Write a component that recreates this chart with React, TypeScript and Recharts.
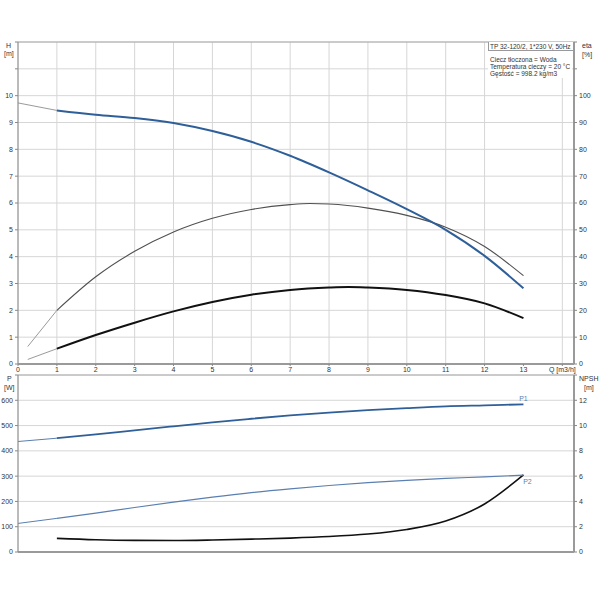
import React from "react";
import { ComposedChart, Line, XAxis, YAxis, CartesianGrid, ReferenceLine } from "recharts";

// ---- tick labels ----
const qTicks = [0, 1, 2, 3, 4, 5, 6, 7, 8, 9, 10, 11, 12, 13, 14];
const hTicks = [0, 1, 2, 3, 4, 5, 6, 7, 8, 9, 10, 11, 12];
const etaTicks = [0, 10, 20, 30, 40, 50, 60, 70, 80, 90, 100, 110, 120];
const pTicks = [0, 100, 200, 300, 400, 500, 600, 700];
const npshTicks = [0, 2, 4, 6, 8, 10, 12, 14];

// ---- H curve [m] ----
const qHExt = [0, 1];
const hExt = [9.73, 9.45];
const qMain = [1, 2, 3, 4, 5, 6, 7, 8, 9, 10, 11, 12, 13];
const hMain = [9.45, 9.29, 9.17, 8.98, 8.68, 8.28, 7.76, 7.14, 6.47, 5.77, 5.0, 4.03, 2.82];

// ---- eta pump [%] ----
const qEtaExt = [0.25, 1];
const etaExt = [6.5, 20];
const qEta = [1, 2, 3, 4, 5, 6, 7, 7.5, 8, 9, 10, 11, 12, 13];
const etaMain = [20, 32.5, 42, 49.2, 54.3, 57.6, 59.4, 59.8, 59.6, 58.1, 55.4, 51.0, 43.8, 32.9];

// ---- eta total [%] ----
const etaTotExt = [1.7, 5.7];
const qEtaTot = [1, 2, 3, 4, 5, 6, 7, 8, 8.5, 9, 10, 11, 12, 13];
const etaTotMain = [5.7, 10.8, 15.4, 19.6, 23.1, 25.8, 27.6, 28.5, 28.7, 28.5, 27.6, 25.7, 22.6, 17.1];

// ---- P1 / P2 [W] ----
const qPExt = [0, 1];
const p1Ext = [437, 450];
const p1Main = [450, 465, 481, 497, 513, 527, 540, 551, 561, 569, 576, 580, 584];
const p2Ext = [113, 133];
const p2Main = [133, 154, 176, 197, 217, 235, 250, 263, 274, 283, 291, 297, 304];

// ---- NPSH [m] ----
const npshMain = [1.08, 0.97, 0.92, 0.91, 0.95, 1.02, 1.1, 1.22, 1.42, 1.78, 2.45, 3.8, 6.1];

const pts = (qs: number[], vs: number[]) => qs.map((q, i) => ({ q, v: vs[i] }));

const FONT = "'Liberation Sans', Arial, sans-serif";
const tickStyle = { fontSize: 7, fill: "#333", fontFamily: FONT };
const GRID = "#d6d6d6";
const BLUE = "#2f5f98";
const BLUE2 = "#5a7fb0";
const EXT = "#9a9a9a";
const CURVE = "monotone";

const txt = (left: number, top: number, s: string, extra: any = {}) => (
  <div
    style={{
      position: "absolute",
      left,
      top,
      fontSize: 7,
      lineHeight: "8px",
      fontFamily: FONT,
      color: "#333",
      whiteSpace: "nowrap",
      ...extra,
    }}
  >
    {s}
  </div>
);

const endLabel = (text: string, n: number, dy: number, dx: number) => (props: any) => {
  if (props.index !== n - 1) return <g />;
  return (
    <text
      x={props.x + dx}
      y={props.y + dy}
      fontSize={7}
      fontFamily={FONT}
      fill={BLUE2}
      textAnchor="middle"
    >
      {text}
    </text>
  );
};

export default function App() {
  return (
    <div style={{ position: "absolute", left: 0, top: 0, width: 600, height: 600, background: "#fff" }}>
      {/* top chart */}
      <div style={{ position: "absolute", left: 0, top: 0 }}>
        <ComposedChart width={600} height={384} margin={{ top: 42, right: 0, bottom: 0, left: 0 }}>
          <CartesianGrid xAxisId="q" yAxisId="h" stroke={GRID} />
          <XAxis
            xAxisId="q"
            dataKey="q"
            type="number"
            domain={[0, 14.3]}
            ticks={qTicks}
            allowDataOverflow
            height={20}
            tick={tickStyle}
            tickSize={2}
            tickMargin={1}
            tickLine={{ stroke: "#888" }}
            axisLine={{ stroke: "#9a9a9a", strokeWidth: 2 }}
            tickFormatter={(v: number) => (v === 14 ? "Q [m3/h]" : String(v))}
          />
          <YAxis
            yAxisId="h"
            type="number"
            domain={[0, 12]}
            ticks={hTicks}
            width={18}
            tick={tickStyle}
            tickSize={3}
            tickMargin={2}
            tickLine={{ stroke: "#888" }}
            axisLine={{ stroke: "#8a8a8a" }}
            tickFormatter={(v: number) => (v <= 10 ? String(v) : "")}
          />
          <YAxis
            yAxisId="eta"
            orientation="right"
            type="number"
            domain={[0, 120]}
            ticks={etaTicks}
            width={26}
            tick={tickStyle}
            tickSize={3}
            tickMargin={2}
            tickLine={{ stroke: "#888" }}
            axisLine={{ stroke: "#9a9a9a", strokeWidth: 2 }}
            tickFormatter={(v: number) => (v <= 100 ? String(v) : "")}
          />
          <ReferenceLine xAxisId="q" yAxisId="h" y={12} stroke="#aaa" />
          <Line data={pts(qEtaExt, etaExt)} xAxisId="q" yAxisId="eta" dataKey="v" type={CURVE} dot={false} stroke={EXT} strokeWidth={1} isAnimationActive={false} />
          <Line data={pts(qEtaExt, etaTotExt)} xAxisId="q" yAxisId="eta" dataKey="v" type={CURVE} dot={false} stroke={EXT} strokeWidth={1} isAnimationActive={false} />
          <Line data={pts(qHExt, hExt)} xAxisId="q" yAxisId="h" dataKey="v" type={CURVE} dot={false} stroke={EXT} strokeWidth={1} isAnimationActive={false} />
          <Line data={pts(qEta, etaMain)} xAxisId="q" yAxisId="eta" dataKey="v" type={CURVE} dot={false} stroke="#505050" strokeWidth={1.1} isAnimationActive={false} />
          <Line data={pts(qEtaTot, etaTotMain)} xAxisId="q" yAxisId="eta" dataKey="v" type={CURVE} dot={false} stroke="#111" strokeWidth={2} isAnimationActive={false} />
          <Line data={pts(qMain, hMain)} xAxisId="q" yAxisId="h" dataKey="v" type={CURVE} dot={false} stroke={BLUE} strokeWidth={2} isAnimationActive={false} />
        </ComposedChart>
      </div>

      {/* bottom chart */}
      <div style={{ position: "absolute", left: 0, top: 355 }}>
        <ComposedChart width={600} height={205} margin={{ top: 20, right: 0, bottom: 7, left: 0 }}>
          <CartesianGrid xAxisId="q" yAxisId="p" stroke={GRID} />
          <XAxis
            xAxisId="q"
            dataKey="q"
            type="number"
            domain={[0, 14.3]}
            ticks={qTicks}
            allowDataOverflow
            height={1}
            tick={false}
            tickLine={false}
            axisLine={{ stroke: "#9a9a9a", strokeWidth: 2 }}
          />
          <YAxis
            yAxisId="p"
            type="number"
            domain={[0, 700]}
            ticks={pTicks}
            width={18}
            tick={tickStyle}
            tickSize={3}
            tickMargin={2}
            tickLine={{ stroke: "#888" }}
            axisLine={{ stroke: "#8a8a8a" }}
            tickFormatter={(v: number) => (v <= 600 ? String(v) : "")}
          />
          <YAxis
            yAxisId="npsh"
            orientation="right"
            type="number"
            domain={[0, 14]}
            ticks={npshTicks}
            width={26}
            tick={tickStyle}
            tickSize={3}
            tickMargin={2}
            tickLine={{ stroke: "#888" }}
            axisLine={{ stroke: "#9a9a9a", strokeWidth: 2 }}
            tickFormatter={(v: number) => (v <= 12 ? String(v) : "")}
          />
          <ReferenceLine xAxisId="q" yAxisId="p" y={700} stroke="#aaa" />
          <Line data={pts(qPExt, p1Ext)} xAxisId="q" yAxisId="p" dataKey="v" type={CURVE} dot={false} stroke={BLUE2} strokeWidth={1} isAnimationActive={false} />
          <Line data={pts(qPExt, p2Ext)} xAxisId="q" yAxisId="p" dataKey="v" type={CURVE} dot={false} stroke={BLUE2} strokeWidth={1} isAnimationActive={false} />
          <Line data={pts(qMain, npshMain)} xAxisId="q" yAxisId="npsh" dataKey="v" type={CURVE} dot={false} stroke="#111" strokeWidth={1.6} isAnimationActive={false} />
          <Line
            data={pts(qMain, p2Main)}
            xAxisId="q"
            yAxisId="p"
            dataKey="v"
            type={CURVE}
            dot={false}
            stroke={BLUE2}
            strokeWidth={1.2}
            isAnimationActive={false}
            label={endLabel("P2", p2Main.length, 9, 4)}
          />
          <Line
            data={pts(qMain, p1Main)}
            xAxisId="q"
            yAxisId="p"
            dataKey="v"
            type={CURVE}
            dot={false}
            stroke={BLUE}
            strokeWidth={1.8}
            isAnimationActive={false}
            label={endLabel("P1", p1Main.length, -3, 0)}
          />
        </ComposedChart>
      </div>

      {/* axis titles */}
      {txt(6, 42, "H")}
      {txt(4, 50, "[m]")}
      {txt(582, 42, "eta")}
      {txt(582, 51, "[%]")}
      {txt(7, 375, "P")}
      {txt(4, 384, "[W]")}
      {txt(579, 375, "NPSH")}
      {txt(584, 384, "[m]")}

      {/* info box */}
      <div
        style={{
          position: "absolute",
          left: 488,
          top: 51,
          width: 84,
          height: 27,
          background: "#fff",
        }}
      />
      <div
        style={{
          position: "absolute",
          left: 488,
          top: 42,
          width: 85,
          height: 9,
          boxSizing: "border-box",
          borderLeft: "1px solid #999",
          borderBottom: "1px solid #999",
          background: "#fff",
        }}
      />
      {txt(490, 42.5, "TP 32-120/2, 1*230 V, 50Hz", { fontSize: 6.5 })}
      {txt(490, 55.5, "Ciecz tłoczona = Woda", { fontSize: 6.5 })}
      {txt(490, 62.5, "Temperatura cieczy = 20 °C", { fontSize: 6.5 })}
      {txt(490, 69.5, "Gęstość = 998.2 kg/m3", { fontSize: 6.5 })}
    </div>
  );
}
